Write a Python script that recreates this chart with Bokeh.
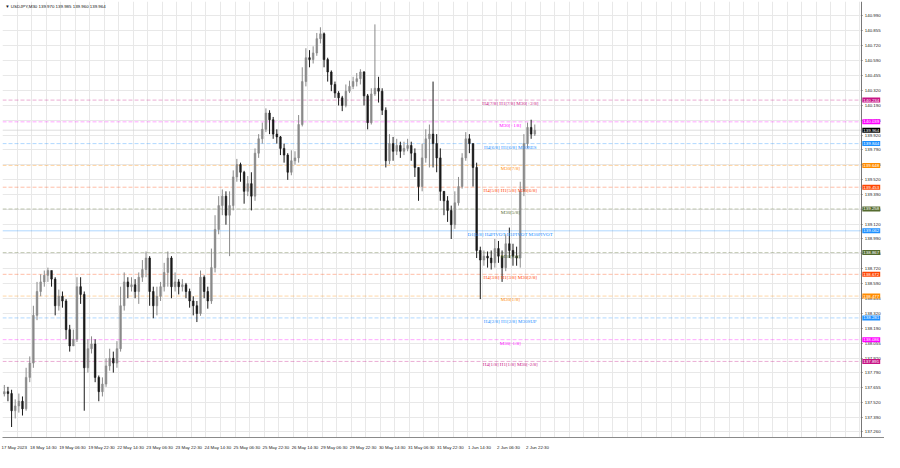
from bokeh.plotting import figure
from bokeh.models import (ColumnDataSource, Range1d, FixedTicker, Label, LinearAxis, Grid)
from bokeh.embed import file_html
from bokeh.resources import INLINE

chart_title = "\u25bc USDJPY,M30  139.970 139.985 139.960 139.964"

date_bars = [0, 32, 64, 96, 128, 160, 192, 224, 256, 288, 320, 352, 384, 416, 448, 480, 512, 544, 576]
date_labels = ["17 May 2023", "18 May 14:30", "19 May 06:30", "19 May 22:30", "22 May 14:30",
               "23 May 06:30", "23 May 22:30", "24 May 14:30", "25 May 06:30", "25 May 22:30",
               "26 May 14:30", "29 May 06:30", "29 May 22:30", "30 May 14:30", "31 May 06:30",
               "31 May 22:30", "1 Jun 14:30", "2 Jun 06:30", "2 Jun 22:30"]

price_ticks = [140.990, 140.855, 140.720, 140.590, 140.455, 140.320, 140.190, 140.055, 139.920,
               139.790, 139.655, 139.520, 139.390, 139.255, 139.120, 138.990, 138.855, 138.720,
               138.590, 138.455, 138.320, 138.190, 138.055, 137.920, 137.790, 137.655, 137.520,
               137.390, 137.260]

# 2-hour candles (4 x M30)
closes = [137.620, 137.603, 137.449, 137.492, 137.534, 137.466, 137.748, 137.876, 138.304, 138.518,
          138.604, 138.663, 138.706, 138.629, 138.390, 138.475, 138.433, 138.176, 138.030, 138.090,
          138.561, 138.492, 137.834, 138.005, 138.047, 137.748, 137.620, 137.688, 137.851, 137.919,
          137.876, 138.005, 138.390, 138.604, 138.561, 138.578, 138.518, 138.646, 138.715, 138.818,
          138.518, 138.390, 138.475, 138.561, 138.689, 138.818, 138.561, 138.604, 138.561, 138.578,
          138.518, 138.433, 138.390, 138.321, 138.646, 138.518, 138.433, 138.732, 139.074, 139.288,
          139.373, 139.202, 139.288, 139.545, 139.656, 139.587, 139.416, 139.485, 139.373, 139.758,
          139.887, 139.972, 140.118, 140.058, 139.929, 139.904, 139.801, 139.741, 139.587, 139.690,
          139.716, 140.015, 140.400, 140.614, 140.597, 140.657, 140.785, 140.828, 140.597, 140.486,
          140.374, 140.297, 140.254, 140.186, 140.314, 140.357, 140.400, 140.426, 140.486, 140.272,
          140.032, 140.289, 140.340, 140.314, 140.143, 139.690, 139.844, 139.775, 139.827, 139.775,
          139.801, 139.827, 139.758, 139.630, 139.459, 139.716, 139.887, 139.929, 139.844, 139.716,
          139.416, 139.331, 139.245, 139.117, 139.313, 139.459, 139.716, 139.887, 139.844, 139.630,
          138.886, 138.800, 138.835, 138.818, 138.775, 138.903, 138.835, 138.732, 138.946, 138.886,
          138.835, 138.818, 139.416, 139.844, 139.989, 139.929, 139.964]

opens = [137.600, 137.620, 137.603, 137.449, 137.492, 137.534, 137.466, 137.748, 137.876, 138.304,
         138.518, 138.604, 138.663, 138.706, 138.629, 138.390, 138.475, 138.433, 138.176, 138.030,
         138.090, 138.561, 138.492, 137.834, 138.005, 138.047, 137.748, 137.620, 137.688, 137.851,
         137.919, 137.876, 138.005, 138.390, 138.604, 138.561, 138.578, 138.518, 138.646, 138.715,
         138.818, 138.518, 138.390, 138.475, 138.561, 138.689, 138.818, 138.561, 138.604, 138.561,
         138.578, 138.518, 138.433, 138.390, 138.321, 138.646, 138.518, 138.433, 138.732, 139.074,
         139.288, 139.373, 139.202, 139.288, 139.545, 139.656, 139.587, 139.416, 139.485, 139.373,
         139.758, 139.887, 139.972, 140.118, 140.058, 139.929, 139.904, 139.801, 139.741, 139.587,
         139.690, 139.716, 140.015, 140.400, 140.614, 140.597, 140.657, 140.785, 140.828, 140.597,
         140.486, 140.374, 140.297, 140.254, 140.186, 140.314, 140.357, 140.400, 140.426, 140.486,
         140.272, 140.032, 140.289, 140.340, 140.314, 140.143, 139.690, 139.844, 139.775, 139.827,
         139.775, 139.801, 139.827, 139.758, 139.630, 139.459, 139.716, 139.887, 139.929, 139.844,
         139.716, 139.416, 139.331, 139.245, 139.117, 139.313, 139.459, 139.716, 139.887, 139.844,
         139.630, 138.886, 138.800, 138.835, 138.818, 138.775, 138.903, 138.835, 138.732, 138.946,
         138.886, 138.835, 138.818, 139.416, 139.844, 139.989, 139.929]

highs = [137.680, 137.663, 137.637, 137.551, 137.603, 137.577, 137.834, 137.936, 138.390, 138.604,
         138.672, 138.706, 138.732, 138.689, 138.646, 138.535, 138.518, 138.450, 138.219, 138.176,
         138.646, 138.646, 138.518, 138.090, 138.116, 138.090, 137.765, 137.748, 137.919, 138.005,
         137.979, 138.073, 138.561, 138.689, 138.646, 138.646, 138.629, 138.689, 138.800, 138.877,
         138.835, 138.561, 138.561, 138.604, 138.775, 138.877, 138.835, 138.689, 138.629, 138.629,
         138.595, 138.544, 138.475, 138.433, 138.706, 138.663, 138.561, 138.903, 139.202, 139.373,
         139.433, 139.416, 139.416, 139.604, 139.707, 139.673, 139.600, 139.553, 139.587, 139.801,
         139.929, 140.032, 140.160, 140.143, 140.083, 139.972, 139.912, 139.844, 139.758, 139.784,
         139.775, 140.100, 140.528, 140.699, 140.682, 140.716, 140.836, 140.887, 140.840, 140.614,
         140.500, 140.400, 140.314, 140.272, 140.374, 140.408, 140.443, 140.477, 140.511, 140.494,
         140.289, 140.340, 140.913, 140.443, 140.340, 140.169, 139.929, 139.904, 139.887, 139.861,
         139.861, 139.887, 139.861, 139.801, 139.630, 139.844, 139.972, 140.015, 140.400, 139.929,
         139.801, 139.416, 139.373, 139.288, 139.416, 139.545, 139.758, 139.947, 139.929, 139.844,
         139.673, 138.920, 138.886, 138.877, 138.886, 138.989, 138.971, 138.886, 139.031, 139.091,
         138.946, 138.920, 139.502, 139.929, 140.032, 140.058, 140.015]

lows = [137.577, 137.534, 137.303, 137.380, 137.432, 137.406, 137.449, 137.705, 137.834, 138.261,
        138.475, 138.561, 138.604, 138.561, 138.304, 138.347, 138.373, 138.090, 137.979, 138.030,
        138.065, 138.407, 137.449, 137.791, 137.962, 137.705, 137.534, 137.577, 137.663, 137.808,
        137.791, 137.834, 137.979, 138.347, 138.458, 138.518, 138.458, 138.407, 138.604, 138.646,
        138.390, 138.278, 138.304, 138.433, 138.518, 138.561, 138.458, 138.518, 138.492, 138.518,
        138.458, 138.373, 138.304, 138.244, 138.300, 138.458, 138.364, 138.407, 138.689, 139.031,
        139.202, 139.117, 138.835, 139.245, 139.502, 139.502, 139.305, 139.373, 139.245, 139.331,
        139.716, 139.844, 139.947, 139.929, 139.887, 139.844, 139.741, 139.673, 139.519, 139.560,
        139.656, 139.673, 139.998, 140.357, 140.528, 140.562, 140.631, 140.742, 140.528, 140.400,
        140.314, 140.254, 140.186, 140.135, 140.169, 140.297, 140.332, 140.357, 140.374, 140.186,
        139.972, 140.015, 140.272, 140.212, 140.100, 139.630, 139.660, 139.690, 139.741, 139.716,
        139.741, 139.775, 139.690, 139.545, 139.331, 139.416, 139.673, 139.630, 139.630, 139.587,
        139.331, 139.202, 139.142, 138.989, 139.080, 139.288, 139.440, 139.690, 139.758, 139.459,
        138.818, 138.450, 138.749, 138.732, 138.715, 138.732, 138.775, 138.604, 138.700, 138.818,
        138.749, 138.749, 138.732, 139.373, 139.801, 139.887, 139.912]

level_prices = [140.234, 140.039, 139.844, 139.648, 139.453, 139.258, 139.062,
                138.867, 138.672, 138.477, 138.281, 138.086, 137.891]
level_names = ["H4[7/8] H1[7/8] M30[+2/8]", "M30[+1/8]", "H4[6/8] H1[6/8] M30RES", "M30[7/8]",
               "H4[5/8] H1[5/8] M30[6/8]", "M30[5/8]", "D1[5/8] H4PIVOT H1PIVOT M30PIVOT",
               "M30[3/8]", "H4[3/8] H1[3/8] M30[2/8]", "M30[1/8]", "H4[2/8] H1[2/8] M30SUP",
               "M30[-1/8]", "H4[1/8] H1[1/8] M30[-2/8]"]
last_price = 139.964

# styles
level_colors = ["#c71585", "#ff00ff", "#1e90ff", "#ff8c00", "#ff4500", "#556b2f", "#1e90ff",
                "#556b2f", "#ff4500", "#ff8c00", "#1e90ff", "#ff00ff", "#c71585"]
level_dashes = ["4 2", "4 2", "4 2", "4 2", "4 2", "4 2", "solid",
                "4 2", "4 2", "4 2", "4 2", "4 2", "4 2"]

FONT = "Liberation Sans"
FS = "4.4px"
X_END = 946      # last bar slot of the price area (axis position)
X_TOTAL = 971    # includes the price-scale strip
Y0, Y1 = 137.209, 141.118

bar_pos = [4 * i + 2 for i in range(len(closes))]
bull = [c >= o for o, c in zip(opens, closes)]
src = ColumnDataSource(dict(
    x=bar_pos,
    top=[max(o, c) for o, c in zip(opens, closes)],
    bottom=[min(o, c) for o, c in zip(opens, closes)],
    high=highs, low=lows,
    color=["#8a8a8a" if b else "#1a1a1a" for b in bull],
))

p = figure(width=884, height=452, x_range=Range1d(0, X_TOTAL), y_range=Range1d(Y0, Y1),
           output_backend="svg", toolbar_location=None, y_axis_location=None,
           min_border_left=2, min_border_top=1, min_border_right=0, min_border_bottom=0)
p.background_fill_color = "white"
p.border_fill_color = "white"
p.outline_line_color = None

# grid
p.xgrid.ticker = FixedTicker(ticks=list(range(0, X_END, 16)))
p.xgrid.grid_line_color = "#e8e8e8"
p.ygrid.visible = False
p.add_layout(Grid(dimension=1, ticker=FixedTicker(ticks=price_ticks), grid_line_color="#e8e8e8"))

# white strip for the price scale (hides grid there)
p.quad(left=[X_END], right=[X_TOTAL], bottom=[Y0], top=[Y1], fill_color="white", line_color=None)

# x axis
p.xaxis.ticker = FixedTicker(ticks=[b + 13 for b in date_bars])
p.xaxis.major_label_overrides = {b + 13: t for b, t in zip(date_bars, date_labels)}
p.xaxis.major_label_text_font = FONT
p.xaxis.major_label_text_font_size = FS
p.xaxis.major_label_text_color = "#222222"
p.xaxis.major_tick_line_color = None
p.xaxis.minor_tick_line_color = None
p.xaxis.axis_line_color = "#8a8a8a"
p.xaxis.major_label_standoff = 1

# y axis placed at the edge of the price area
yax = LinearAxis(fixed_location=X_END, ticker=FixedTicker(ticks=price_ticks),
                 major_label_overrides={t: f"{t:.3f}" for t in price_ticks})
yax.major_label_text_font = FONT
yax.major_label_text_font_size = FS
yax.major_label_text_color = "#222222"
yax.major_tick_in = 0
yax.major_tick_out = 1
yax.major_tick_line_color = "#666666"
yax.minor_tick_line_color = None
yax.axis_line_color = "#777777"
yax.major_label_standoff = 2
p.add_layout(yax, "right")

# level lines
for price, col, dash in zip(level_prices, level_colors, level_dashes):
    p.segment(x0=[0], y0=[price], x1=[X_END], y1=[price], line_color=col, line_alpha=0.35,
              line_dash=dash, line_width=1)
p.segment(x0=[0], y0=[last_price], x1=[X_END], y1=[last_price], line_color="#d0d0d0",
          line_alpha=0.7, line_width=1)

# candles
p.segment(x0="x", y0="low", x1="x", y1="high", color="color", line_width=1, source=src)
p.vbar(x="x", width=1.8, top="top", bottom="bottom", fill_color="color",
       line_color="color", line_width=0.6, source=src)

# level texts
p.text(x=[559] * len(level_prices), y=level_prices, text=level_names, text_color=level_colors,
       text_font=FONT, text_font_size="5px", text_align="center", text_baseline="top", y_offset=1)

# price tags on the axis
for price, col in list(zip(level_prices, level_colors)) + [(last_price, "#000000")]:
    p.add_layout(Label(x=X_END + 0.6, y=price, text=f"{price:.3f}", text_font=FONT,
                       text_font_size=FS, text_color="white", text_align="left",
                       text_baseline="middle", background_fill_color=col, padding=1))

p.add_layout(Label(x=3, y=Y1, y_offset=-2, text=chart_title, text_font=FONT,
                   text_font_size=FS, text_color="#111111", text_align="left",
                   text_baseline="top"))

open("out.html", "w").write(file_html(p, INLINE))
